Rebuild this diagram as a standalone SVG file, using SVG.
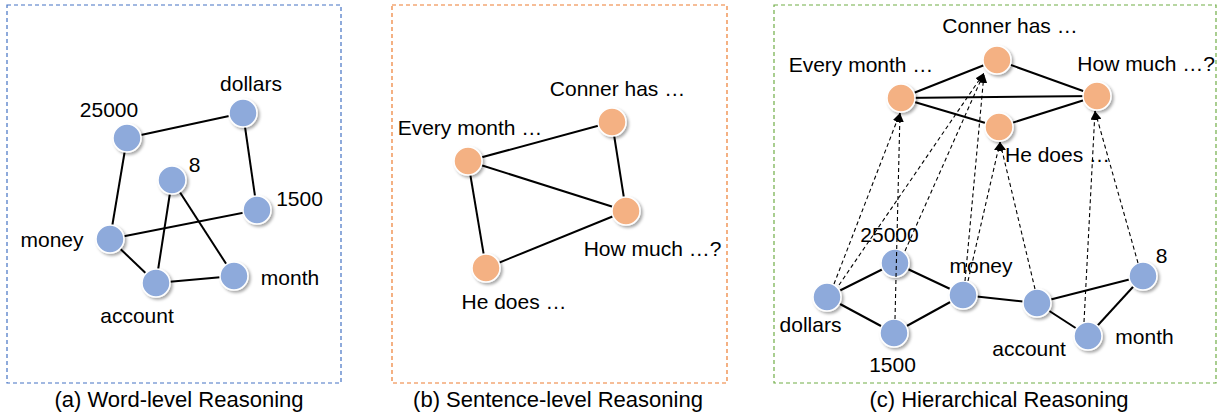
<svg xmlns="http://www.w3.org/2000/svg" width="1220" height="415" viewBox="0 0 1220 415">
<style>
.box{fill:none;stroke-width:1.2;stroke-dasharray:4,3}
.edge{stroke:#000;stroke-width:2;fill:none}
.dash{stroke:#000;stroke-width:1.1;stroke-dasharray:4,3;fill:none;marker-end:url(#arr)}
.w{fill:#8eaadb;stroke:#fff;stroke-width:1.5;filter:url(#sh)}
.s{fill:#f4b183;stroke:#fff;stroke-width:1.5;filter:url(#sh)}
text{font-family:"Liberation Sans",Arial,sans-serif;font-size:21px;fill:#000;text-anchor:middle}
.cap{font-size:22px}
</style>
<defs>
<filter id="sh" x="-40%" y="-40%" width="180%" height="180%">
<feDropShadow dx="2" dy="2" stdDeviation="1.5" flood-color="#000" flood-opacity="0.35"/>
</filter>
<marker id="arr" markerUnits="userSpaceOnUse" markerWidth="9" markerHeight="8" refX="9" refY="4" orient="auto">
<path d="M0,0 L9,4 L0,8 z" fill="#000"/>
</marker>
</defs>
<rect class="box" x="7" y="5" width="334" height="378" stroke="#4472c4"/>
<rect class="box" x="392" y="5" width="335" height="378" stroke="#ed7d31"/>
<rect class="box" x="774" y="5" width="442" height="378" stroke="#70ad47"/>
<g id="connectors">
<line class="edge" x1="127" y1="138" x2="243" y2="113"/>
<line class="edge" x1="243" y1="113" x2="257" y2="210"/>
<line class="edge" x1="127" y1="138" x2="110" y2="239"/>
<line class="edge" x1="110" y1="239" x2="257" y2="210"/>
<line class="edge" x1="110" y1="239" x2="156" y2="283"/>
<line class="edge" x1="172" y1="180" x2="156" y2="283"/>
<line class="edge" x1="172" y1="180" x2="234" y2="276"/>
<line class="edge" x1="156" y1="283" x2="234" y2="276"/>
<line class="edge" x1="468" y1="161" x2="612" y2="122"/>
<line class="edge" x1="612" y1="122" x2="626" y2="211"/>
<line class="edge" x1="468" y1="161" x2="626" y2="211"/>
<line class="edge" x1="468" y1="161" x2="486" y2="268"/>
<line class="edge" x1="486" y1="268" x2="626" y2="211"/>
<line class="edge" x1="901" y1="98" x2="997" y2="60"/>
<line class="edge" x1="997" y1="60" x2="1097" y2="96"/>
<line class="edge" x1="901" y1="98" x2="1097" y2="96"/>
<line class="edge" x1="901" y1="98" x2="999" y2="127"/>
<line class="edge" x1="999" y1="127" x2="1097" y2="96"/>
<line class="edge" x1="827" y1="297" x2="895" y2="263"/>
<line class="edge" x1="827" y1="297" x2="894" y2="333"/>
<line class="edge" x1="895" y1="263" x2="963" y2="295"/>
<line class="edge" x1="894" y1="333" x2="963" y2="295"/>
<line class="edge" x1="963" y1="295" x2="1037" y2="303"/>
<line class="edge" x1="1037" y1="303" x2="1143" y2="276"/>
<line class="edge" x1="1037" y1="303" x2="1088" y2="336"/>
<line class="edge" x1="1088" y1="336" x2="1143" y2="276"/>
</g>
<g id="a-25000"><circle class="w" cx="127" cy="138" r="14"/><text x="109" y="117">25000</text></g>
<g id="a-dollars"><circle class="w" cx="243" cy="113" r="14"/><text x="251" y="91">dollars</text></g>
<g id="a-8"><circle class="w" cx="172" cy="180" r="14"/><text x="194.5" y="172">8</text></g>
<g id="a-1500"><circle class="w" cx="257" cy="210" r="14"/><text x="299.5" y="206">1500</text></g>
<g id="a-money"><circle class="w" cx="110" cy="239" r="14"/><text x="52" y="247">money</text></g>
<g id="a-account"><circle class="w" cx="156" cy="283" r="14"/><text x="137" y="323">account</text></g>
<g id="a-month"><circle class="w" cx="234" cy="276" r="14"/><text x="290" y="285">month</text></g>
<g id="b-conner"><circle class="s" cx="612" cy="122" r="14"/><text x="617.5" y="96">Conner has …</text></g>
<g id="b-every"><circle class="s" cx="468" cy="161" r="14"/><text x="470" y="135">Every month …</text></g>
<g id="b-howmuch"><circle class="s" cx="626" cy="211" r="14"/><text x="652.5" y="256">How much …?</text></g>
<g id="b-hedoes"><circle class="s" cx="486" cy="268" r="14"/><text x="514" y="309">He does …</text></g>
<g id="c-conner"><circle class="s" cx="997" cy="60" r="14"/><text x="1010" y="33">Conner has …</text></g>
<g id="c-every"><circle class="s" cx="901" cy="98" r="14"/><text x="861" y="72">Every month …</text></g>
<g id="c-howmuch"><circle class="s" cx="1097" cy="96" r="14"/><text x="1215" y="71" style="text-anchor:end">How much …?</text></g>
<g id="c-hedoes"><circle class="s" cx="999" cy="127" r="14"/><text x="1057.5" y="162">He does …</text></g>
<g id="c-dollars"><circle class="w" cx="827" cy="297" r="14"/><text x="810.5" y="332">dollars</text></g>
<g id="c-25000"><circle class="w" cx="895" cy="263" r="14"/><text x="889.5" y="242">25000</text></g>
<g id="c-1500"><circle class="w" cx="894" cy="333" r="14"/><text x="892.5" y="372">1500</text></g>
<g id="c-money"><circle class="w" cx="963" cy="295" r="14"/><text x="981" y="273">money</text></g>
<g id="c-account"><circle class="w" cx="1037" cy="303" r="14"/><text x="1029" y="356">account</text></g>
<g id="c-month"><circle class="w" cx="1088" cy="336" r="14"/><text x="1144.5" y="344">month</text></g>
<g id="c-8"><circle class="w" cx="1143" cy="276" r="14"/><text x="1161.5" y="263">8</text></g>
<g id="arrows">
<line class="dash" x1="834" y1="284" x2="900" y2="113"/>
<line class="dash" x1="839" y1="285" x2="984" y2="73"/>
<line class="dash" x1="895" y1="319" x2="900" y2="113"/>
<line class="dash" x1="905" y1="251" x2="984" y2="73"/>
<line class="dash" x1="965" y1="281" x2="984" y2="74"/>
<line class="dash" x1="968" y1="281" x2="1000" y2="142"/>
<line class="dash" x1="1035" y1="289" x2="1000" y2="142"/>
<line class="dash" x1="1084" y1="322" x2="1095" y2="111"/>
<line class="dash" x1="1138" y1="263" x2="1095" y2="111"/>
</g>
<text class="cap" x="179" y="407">(a) Word-level Reasoning</text>
<text class="cap" x="558" y="407">(b) Sentence-level Reasoning</text>
<text class="cap" x="999" y="407">(c) Hierarchical Reasoning</text>
</svg>
